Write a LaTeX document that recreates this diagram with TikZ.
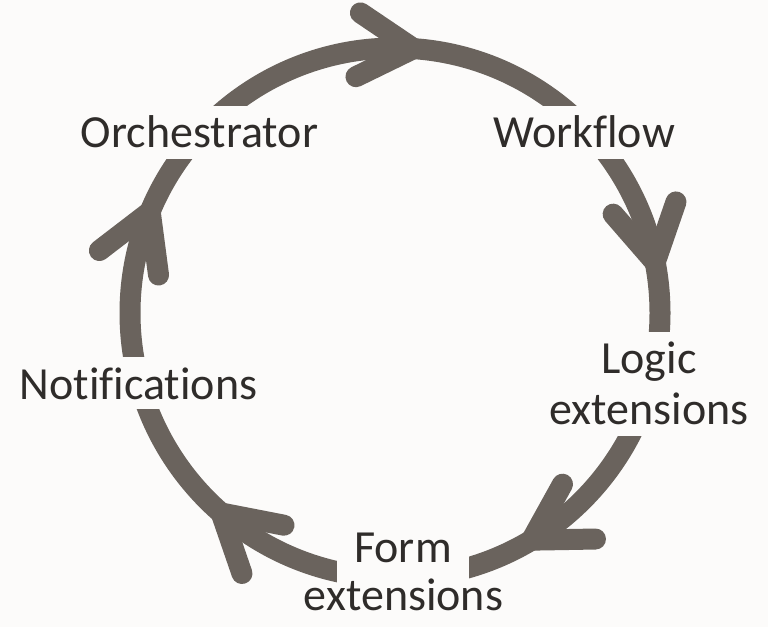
\documentclass[tikz,border=0pt]{standalone}
\usepackage{fontspec}
\setmainfont{Carlito}[Ligatures=NoCommon]
\usetikzlibrary{calc}
\definecolor{bg}{RGB}{252,251,250}
\definecolor{ring}{RGB}{106,99,93}
\definecolor{ink}{RGB}{47,44,42}
\begin{document}
\begin{tikzpicture}[x=1pt,y=1pt,
  ringline/.style={draw=ring, line width=21pt},
  chevron/.style={draw=ring, line width=21pt, line cap=round, line join=miter},
  lbl/.style={font=\fontsize{46pt}{49pt}\selectfont, text=ink, anchor=base, inner xsep=4pt, inner ysep=0pt},
  cover/.style={fill=bg}]
\fill[bg] (0,0) rectangle (768,627);
\useasboundingbox (0,0) rectangle (768,627);
\coordinate (C) at (395,314);
\draw[ringline] (C) circle (265);
\foreach \t [count=\i] in {86,11,-59,-131,157.5} {
  \coordinate (P\i) at ($(C)+(\t:265)$);
  \coordinate (A\i) at ($(P\i)+(\t+60:64)$);
  \coordinate (B\i) at ($(P\i)+(\t+120:64)$);
  \draw[chevron] (A\i) -- (P\i) -- (B\i);
}
\node[lbl, cover, text height=42pt, text depth=11pt] (orch) at (199.5,479) {Orchestrator};
\node[lbl, cover, text height=42pt, text depth=11pt] (work) at (584,479) {Workflow};
\node[lbl, cover, text height=42pt, text depth=11pt] (logic) at (649,253) {Logic};
\node[lbl, cover, text height=39pt, text depth=12pt] (logicext) at (649,203) {extensions};
\node[lbl, cover, text height=43pt, text depth=9pt] (notif) at (138.5,227) {Notifications};
\node[lbl, cover, inner xsep=17pt, text height=42pt, text depth=40pt] (form) at (403,65) {Form};
\node[lbl] (formext) at (403.5,17) {extensions};
\end{tikzpicture}
\end{document}
